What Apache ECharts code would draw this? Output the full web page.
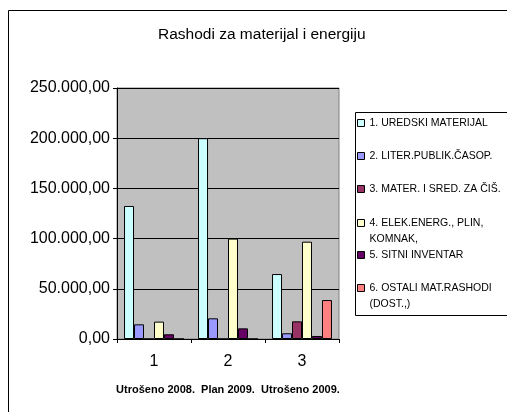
<!DOCTYPE html>
<html>
<head>
<meta charset="UTF-8">
<title>Rashodi za materijal i energiju</title>
<script type="text/javascript" src="https://cdn.jsdelivr.net/npm/echarts@6/dist/echarts.min.js"></script>
<style>
	html, body { margin: 0; padding: 0; background: #fff; }
</style>
</head>
<body>
	<div id="box" style="width:507px;height:412px;"></div>
	<script type="text/javascript">
		// kategorije i vrijednosti ocitane sa slike
		var categories = ['1', '2', '3'];
		var seriesNames = [
			'1. UREDSKI MATERIJAL',
			'2. LITER.PUBLIK.ČASOP.',
			'3. MATER. I SRED. ZA ČIŠ.',
			'4. ELEK.ENERG., PLIN, KOMNAK,',
			'5. SITNI INVENTAR',
			'6. OSTALI MAT.RASHODI (DOST.,)'
		];
		var legendLabels = [
			'1. UREDSKI MATERIJAL',
			'2. LITER.PUBLIK.ČASOP.',
			'3. MATER. I SRED. ZA ČIŠ.',
			'4. ELEK.ENERG., PLIN,\nKOMNAK,',
			'5. SITNI INVENTAR',
			'6. OSTALI MAT.RASHODI\n(DOST.,)'
		];
		var uredski = [132500, 200000, 64700];
		var liter = [14600, 20600, 5700];
		var mater = [0, 0, 17600];
		var elek = [17300, 100000, 96900];
		var sitni = [4700, 10600, 3000];
		var ostali = [0, 0, 38800];
		var yTicks = [0, 50000, 100000, 150000, 200000, 250000];

		var values = [uredski, liter, mater, elek, sitni, ostali];
		var colors = ['#ccffff', '#9999ff', '#993366', '#ffffcc', '#660066', '#ff8080'];
		var font = 'Arial, "Liberation Sans", sans-serif';

		function fmt(v) {
			var parts = v.toFixed(2).split('.');
			return parts[0].replace(/\B(?=(\d{3})+(?!\d))/g, '.') + ',' + parts[1];
		}

		// legenda: svaka stavka posebno, da ikona stoji uz prvi red teksta
		var legendCenters = [123, 156, 189, 223, 255, 288];
		var legends = [];
		for (var i = 0; i < seriesNames.length; i++) {
			var twoLines = legendLabels[i].indexOf('\n') >= 0;
			var lbl = twoLines ? ' \n' + legendLabels[i] : legendLabels[i];
			legends.push({
				left: 357,
				top: twoLines ? legendCenters[i] - 24 : legendCenters[i] - 8,
				padding: 0,
				icon: 'rect',
				itemWidth: 7,
				itemHeight: 7,
				selectedMode: false,
				itemStyle: { borderColor: '#000', borderWidth: 1 },
				formatter: (function (t) { return function () { return t; }; })(lbl),
				textStyle: { fontFamily: font, fontSize: 10.5, color: '#000', lineHeight: 16 },
				data: [seriesNames[i]]
			});
		}

		var series = [];
		for (var j = 0; j < seriesNames.length; j++) {
			series.push({
				name: seriesNames[j],
				type: 'bar',
				barGap: '0%',
				barCategoryGap: '19%',
				itemStyle: { color: colors[j], borderColor: '#000', borderWidth: 1 },
				data: values[j]
			});
		}

		var mychart = echarts.init(document.getElementById('box'));
		var option = {
			animation: false,
			title: {
				text: 'Rashodi za materijal i energiju',
				left: 158,
				top: 27,
				padding: 0,
				textStyle: { fontFamily: font, fontSize: 15.5, fontWeight: 'normal', color: '#000' }
			},
			graphic: [
				{ type: 'rect', shape: { x: 8.5, y: 10.5, width: 520, height: 420 }, style: { fill: 'none', stroke: '#000', lineWidth: 1 }, z: -1 },
				{ type: 'rect', shape: { x: 355.5, y: 112.5, width: 200, height: 203 }, style: { fill: 'none', stroke: '#000', lineWidth: 1 }, z: -1 }
			],
			legend: legends,
			grid: {
				left: 117, top: 88, right: 168, bottom: 73,
				show: true, backgroundColor: '#c0c0c0', borderColor: '#808080', borderWidth: 1
			},
			xAxis: {
				type: 'category',
				data: categories,
				name: 'Utrošeno 2008.  Plan 2009.  Utrošeno 2009.',
				nameLocation: 'middle',
				nameGap: 45,
				nameTextStyle: { fontFamily: font, fontSize: 11, fontWeight: 'bold', color: '#000' },
				axisLine: { lineStyle: { color: '#000' } },
				axisTick: { show: true, length: 4, lineStyle: { color: '#000' } },
				axisLabel: { fontFamily: font, fontSize: 16, color: '#000', margin: 15 }
			},
			yAxis: {
				type: 'value',
				min: yTicks[0],
				max: yTicks[yTicks.length - 1],
				interval: yTicks[1] - yTicks[0],
				axisLine: { show: true, lineStyle: { color: '#000' } },
				axisTick: { show: true, length: 4, lineStyle: { color: '#000' } },
				axisLabel: { fontFamily: font, fontSize: 16, color: '#000', margin: 7, formatter: fmt },
				splitLine: { lineStyle: { color: '#000', width: 1 } }
			},
			series: series
		};
		mychart.setOption(option);
	</script>
</body>
</html>
